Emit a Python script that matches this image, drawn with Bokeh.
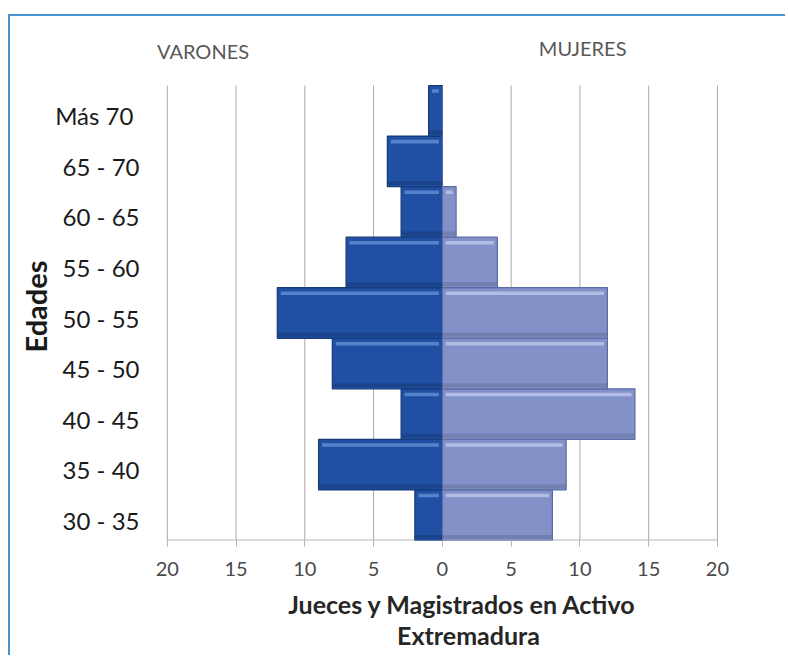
from bokeh.plotting import figure
from bokeh.models import ColumnDataSource, FixedTicker, Range1d, Title
from bokeh.core.properties import value
from bokeh.embed import file_html
from bokeh.resources import INLINE
import numpy as np

# ---- data ----
edades = ["30 - 35", "35 - 40", "40 - 45", "45 - 50", "50 - 55",
          "55 - 60", "60 - 65", "65 - 70", "Más  70"]
varones = [2, 9, 3, 8, 12, 7, 3, 4, 1]
mujeres = [8, 9, 14, 12, 12, 4, 1, 0, 0]
x_ticks = [-20, -15, -10, -5, 0, 5, 10, 15, 20]
x_tick_labels = ["20", "15", "10", "5", "0", "5", "10", "15", "20"]
grupos = ["VARONES", "MUJERES"]

FONT = "Lato"

n = len(edades)
ypos = np.arange(1, n + 1)
label_pos = ypos - 0.1
v_neg = -np.array(varones, dtype=float)
m_pos = np.array(mujeres, dtype=float)
inset = 0.25
src_v = ColumnDataSource(dict(
    y=ypos, left=v_neg, right=np.zeros(n),
    hl=np.minimum(v_neg + inset, -inset), hr=np.full(n, -inset),
    yt=ypos + 0.39, yb=ypos - 0.43))
src_m = ColumnDataSource(dict(
    y=ypos, left=np.zeros(n), right=m_pos,
    hl=np.full(n, inset), hr=np.maximum(m_pos - inset, inset),
    yt=ypos + 0.39, yb=ypos - 0.43))

p = figure(width=785, height=655,
           x_range=Range1d(-21, 24.8), y_range=Range1d(0.5, n + 0.5 + 1.088),
           output_backend="svg", toolbar_location=None,
           min_border_left=153, min_border_right=2,
           min_border_top=30, min_border_bottom=115)
p.border_fill_alpha = 0
p.styles = {
    "background": "linear-gradient(#4a93d3,#4a93d3) 8px 14px / 100% 2px no-repeat, "
                  "linear-gradient(#4a93d3,#4a93d3) 8px 14px / 2px 100% no-repeat"
}
p.outline_line_color = None
p.background_fill_color = "white"

# vertical grid lines at the x ticks, and the base line of the x axis
p.segment(x0=x_ticks, y0=0.5, x1=x_ticks, y1=n + 0.5,
          line_color="#a8a8a8", line_width=1)
p.segment(x0=[x_ticks[0]], y0=[0.5], x1=[x_ticks[-1]], y1=[0.5],
          line_color="#b5b5b5", line_width=2)

# bars
p.hbar(y="y", left="left", right="right", height=1.0, source=src_v,
       fill_color="#1f50a4", line_color="#173a78", line_width=1.2)
p.hbar(y="y", left="left", right="right", height=1.0, source=src_m,
       fill_color="#8291c8", line_color="#5d6ba5", line_width=1.2)
# bevel highlights (top) and shade (bottom)
p.hbar(y="yt", left="hl", right="hr", height=0.07,
       source=src_v, fill_color="#6a93d8", fill_alpha=0.75, line_color=None)
p.hbar(y="yb", left="left", right="right", height=0.08,
       source=src_v, fill_color="#173a78", fill_alpha=0.6, line_color=None)
p.hbar(y="yt", left="hl", right="hr", height=0.07,
       source=src_m, fill_color="#c3cced", fill_alpha=0.75, line_color=None)
p.hbar(y="yb", left="left", right="right", height=0.08,
       source=src_m, fill_color="#66749f", fill_alpha=0.6, line_color=None)

# group labels above the bars
p.text(x=[-17.4, 10.2], y=[n + 1.19, n + 1.25], text=grupos,
       text_align="center", text_baseline="middle",
       text_font=value(FONT), text_font_size="20px", text_color="#595959")

# x axis
p.xaxis.ticker = FixedTicker(ticks=x_ticks)
p.xaxis.bounds = (-20, 24.8)
p.xaxis.major_label_overrides = {t: l for t, l in zip(x_ticks, x_tick_labels)}
p.xaxis.axis_line_color = None
p.xaxis.major_tick_line_color = "#b5b5b5"
p.xaxis.major_tick_out = 6
p.xaxis.major_tick_in = 0
p.xaxis.minor_tick_line_color = None
p.xaxis.major_label_text_font = FONT
p.xaxis.major_label_text_font_size = "20px"
p.xaxis.major_label_text_color = "#4a4a4a"
p.xaxis.major_label_standoff = 15
p.xaxis.axis_label = "Jueces y Magistrados   en Activo\nExtremadura"
p.xaxis.axis_label_text_font = FONT
p.xaxis.axis_label_text_font_style = "bold"
p.xaxis.axis_label_text_font_size = "25px"
p.xaxis.axis_label_text_line_height = 1.05
p.xaxis.axis_label_text_color = "#262626"
p.xaxis.axis_label_standoff = 10

# y axis
p.yaxis.ticker = FixedTicker(ticks=[float(v) for v in label_pos])
p.yaxis.major_label_overrides = {float(k): lab for k, lab in zip(label_pos, edades)}
p.yaxis.axis_line_color = None
p.yaxis.major_tick_line_color = None
p.yaxis.minor_tick_line_color = None
p.yaxis.major_label_text_font = FONT
p.yaxis.major_label_text_font_size = "24px"
p.yaxis.major_label_text_color = "#1a1a1a"
p.yaxis.major_label_standoff = 8

# y axis title, placed as a left-side title so it can be positioned on the bars
p.add_layout(Title(text="Edades", align="left", offset=188, standoff=0,
                   text_font=FONT, text_font_size="29px", text_font_style="bold",
                   text_color="#1a1a1a"), "left")

# grid
p.xgrid.grid_line_color = None
p.ygrid.grid_line_color = None

open("out.html", "w").write(file_html(p, INLINE))
